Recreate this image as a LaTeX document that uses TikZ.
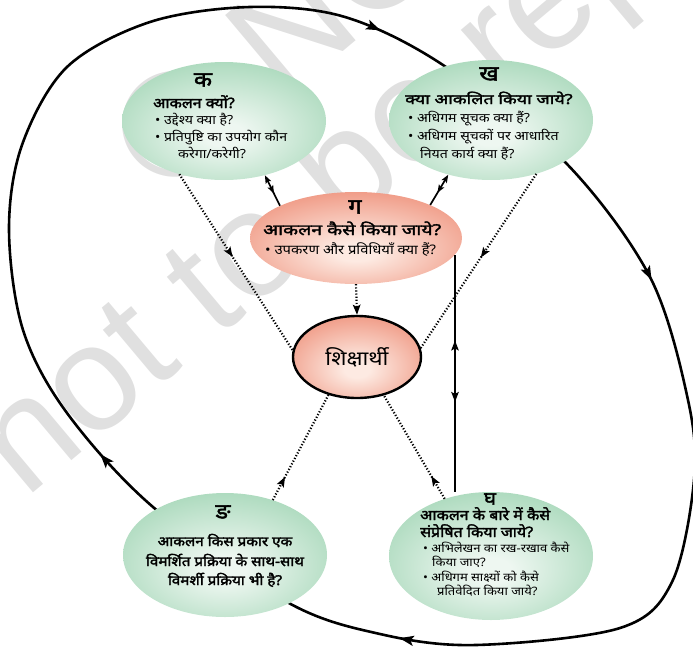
\documentclass[tikz,border=0pt]{standalone}
\usepackage{fontspec}
\usetikzlibrary{arrows.meta,decorations.markings,shapes.geometric}
\newfontfamily\hi[Script=Devanagari, FakeStretch=1.12]{Noto Sans}
\newfontfamily\hib[Script=Devanagari, FakeStretch=1.12, FakeBold=2.2]{Noto Sans}
\newfontfamily\hibw[Script=Devanagari, FakeStretch=1.3, FakeBold=2.2]{Noto Sans}
\newfontfamily\wm{Liberation Sans}
\definecolor{gin}{RGB}{238,247,241}
\definecolor{gout}{RGB}{118,194,147}
\definecolor{oin}{RGB}{253,234,226}
\definecolor{oout}{RGB}{230,96,66}
\definecolor{wmgray}{RGB}{224,224,224}
\pgfdeclareradialshading{gsh}{\pgfpoint{0bp}{-6bp}}{color(0bp)=(gin); color(5bp)=(gin); color(50bp)=(gout); color(80bp)=(gout)}
\pgfdeclareradialshading{osh}{\pgfpoint{0bp}{-8bp}}{color(0bp)=(oin); color(5bp)=(oin); color(50bp)=(oout); color(80bp)=(oout)}
\tikzset{
  gbub/.style={ellipse, inner sep=0pt, shading=gsh},
  obub/.style={ellipse, inner sep=0pt, shading=osh},
  ttl/.style={font=\hib\fontsize{21}{21}\selectfont, inner sep=0pt},
  hd/.style={font=\hib\fontsize{14.3}{16}\selectfont, inner sep=0pt, anchor=base west},
  hdw/.style={inner sep=0pt, anchor=base west},
  hdc/.style={font=\hib\fontsize{13.6}{16}\selectfont, inner sep=0pt, anchor=base},
  bd/.style={font=\hi\fontsize{12.6}{14}\selectfont, inner sep=0pt, anchor=base west},
  bds/.style={font=\hi\fontsize{11.6}{13}\selectfont, inner sep=0pt, anchor=base west},
  wmtext/.style={font=\wm\fontsize{150}{150}\selectfont, text=wmgray, inner sep=0pt, anchor=base west, rotate=40},
  cyc/.style={line width=2.6pt},
  dotline/.style={line width=2.2pt, dash pattern=on 1.2pt off 1.9pt},
  sol/.style={line width=1.7pt},
  bigtip/.tip={Stealth[length=14pt,width=10pt,inset=3pt]},
  smalltip/.tip={Stealth[length=10pt,width=7.5pt,inset=2pt]},
  tinytip/.tip={Stealth[length=8pt,width=6pt,inset=1.5pt]},
}
\begin{document}
\begin{tikzpicture}[x=1pt,y=-1pt]
\useasboundingbox (0,0) rectangle (693,656);
% watermark
\node[wmtext] (wm1) at (25,500) {not to be republished};
\node[wmtext] (wm2) at (166,200) {© NCERT};
% outer cycle (path starts at its second point)
\draw[cyc, postaction={decorate}, decoration={markings,
  mark=at position 0.018 with {\arrow{bigtip}},
  mark=at position 0.197 with {\arrow{bigtip}},
  mark=at position 0.486 with {\arrow{bigtip}},
  mark=at position 0.657 with {\arrow{bigtip}}}]
  plot[smooth cycle, tension=0.55] coordinates {(250,7) (345,17) (443,65) (565,162) (650,277) (688,400) (694,480) (672,582) (620,628) (476,645) (380,634) (287,602) (153,507) (67,413) (23,330) (9,230) (22,145) (67,67) (150,22)};
% bubbles
\node[gbub, minimum width=204, minimum height=118] (ka) at (224,121) {};
\node[gbub, minimum width=204, minimum height=120] (kh) at (491,120) {};
\node[obub, minimum width=212, minimum height=92] (ga) at (356,238) {};
\node[gbub, minimum width=204, minimum height=124] (na) at (225,555) {};
\node[gbub, minimum width=204, minimum height=128] (gh) at (491,556) {};
\node[obub, draw, line width=2.4pt, minimum width=128, minimum height=82, font=\hi\fontsize{20}{20}\selectfont] (le) at (357,357) {शिक्षार्थी};
% texts ka
\node[ttl] (kat) at (203,80) {क};
\node[hd] (ka1) at (153,108) {आकलन क्यों?};
\node[bd] (ka2) at (155,124) {• उद्देश्य क्या है?};
\node[bd] (ka3) at (155,141) {• प्रतिपुष्टि का उपयोग कौन};
\node[bd] (ka4) at (178,158) {करेगा/करेगी?};
% texts kh
\node[ttl] (kht) at (489,74) {ख};
\node[hdw, font=\hibw\fontsize{13.8}{16}\selectfont] (kh1) at (405,104) {क्या आकलित किया जाये?};
\node[bd] (kh2) at (408,122) {• अधिगम सूचक क्या हैं?};
\node[bd] (kh3) at (408,140) {• अधिगम सूचकों पर आधारित};
\node[bd] (kh4) at (420,158) {नियत कार्य क्या हैं?};
% texts ga
\node[ttl] (gat) at (355,207) {ग};
\node[hdw, font=\hibw\fontsize{15}{16}\selectfont] (ga1) at (263,235) {आकलन कैसे किया जाये?};
\node[bd, font=\hi\fontsize{13.2}{14}\selectfont] (ga2) at (265,254) {• उपकरण और प्रविधियाँ क्या हैं?};
% texts gh
\node[ttl, font=\hib\fontsize{18}{18}\selectfont] (ght) at (490,499) {घ};
\node[hd] (gh1) at (420,520) {आकलन के बारे में कैसे};
\node[hd] (gh2) at (420,537) {संप्रेषित किया जाये?};
\node[bds] (gh3) at (423,552) {• अभिलेखन का रख-रखाव कैसे};
\node[bds] (gh4) at (432,566) {किया जाए?};
\node[bds] (gh5) at (423,581) {• अधिगम साक्ष्यों को कैसे};
\node[bds] (gh6) at (437,595) {प्रतिवेदित किया जाये?};
% texts na
\node[ttl] (nat) at (223,512) {ङ};
\node[hdc] (na1) at (225,546) {आकलन किस प्रकार एक};
\node[hdc] (na2) at (225,566) {विमर्शित प्रक्रिया के साथ-साथ};
\node[hdc] (na3) at (225,585) {विमर्शी प्रक्रिया भी है?};
% dotted connectors
\draw[dotline, postaction={decorate}, decoration={markings, mark=at position 0.47 with {\arrow{smalltip}}}] (ka.230) -- (le.174);
\draw[dotline, postaction={decorate}, decoration={markings, mark=at position 0.48 with {\arrow{smalltip}}}] (kh.310) -- (le.8);
\draw[dotline, -{smalltip}] (ga.south) -- (le.north);
\draw[dotline, postaction={decorate}, decoration={markings, mark=at position 0.22 with {\arrow{smalltip}}}] (na.49) -- (le.233);
\draw[dotline, postaction={decorate}, decoration={markings, mark=at position 0.22 with {\arrow{smalltip}}}] (gh.129) -- (le.305);
% double arrows
\draw[sol, -{tinytip}, postaction={decorate}, decoration={markings, mark=at position 0.4 with {\arrowreversed{tinytip}}}] (ga.157) -- (ka.307);
\draw[sol, -{tinytip}, postaction={decorate}, decoration={markings, mark=at position 0.4 with {\arrowreversed{tinytip}}}] (ga.24) -- (kh.232);
% vertical line
\coordinate (vx) at (455,0);
\draw[sol, postaction={decorate}, decoration={markings, mark=at position 0.36 with {\arrowreversed{smalltip}}, mark=at position 0.62 with {\arrow{smalltip}}}] (ga.350 -| vx) -- (gh.north -| vx);
\end{tikzpicture}
\end{document}
